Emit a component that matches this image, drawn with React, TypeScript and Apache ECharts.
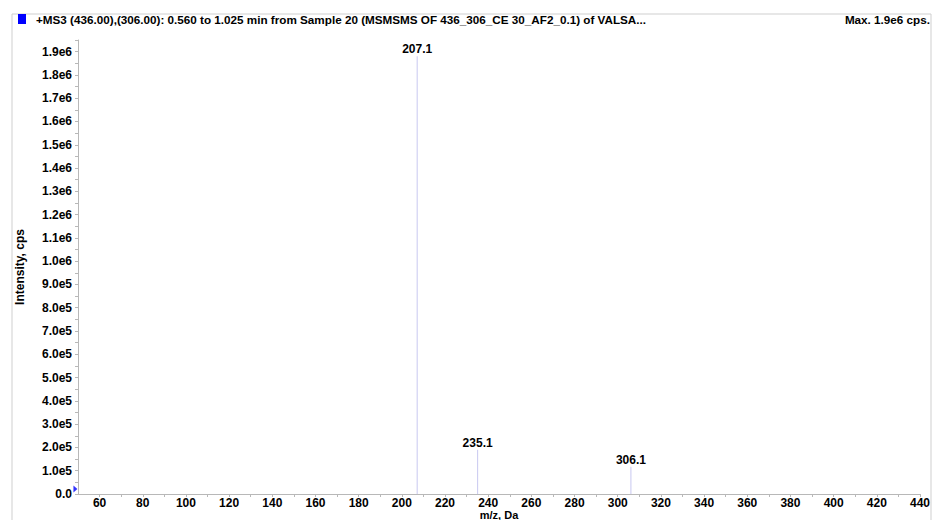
import React, { useEffect, useRef } from "react";
import * as echarts from "echarts";

const titleText =
  "+MS3 (436.00),(306.00): 0.560 to 1.025 min from Sample 20 (MSMSMS OF 436_306_CE 30_AF2_0.1) of VALSA...";
const maxText = "Max. 1.9e6 cps.";
const xAxisName = "m/z, Da";
const yAxisName = "Intensity, cps";

const peakMz = [207.1, 235.1, 306.1];
const peakIntensity = [1880000, 190000, 117000];
const peakLabels = ["207.1", "235.1", "306.1"];

const xMin = 50;
const xMax = 440;
const yMin = 0;
const yMax = 1950000;

const markerPoint = [48.8, 21000];

const FONT = "'Liberation Sans', Arial, sans-serif";

function fmtY(v: number): string {
  const k = v / 1e5;
  if (Math.abs(k - Math.round(k)) > 1e-6) return "";
  if (Math.round(k) === 0) return "0.0";
  const e = Math.floor(Math.log10(v) + 1e-9);
  const m = v / Math.pow(10, e);
  return m.toFixed(1) + "e" + e;
}

export default function App() {
  const ref = useRef<HTMLDivElement>(null);
  useEffect(() => {
    if (!ref.current) return;
    const chart = echarts.init(ref.current, undefined, { renderer: "svg" });
    const data = peakMz.map((m, i) => ({
      value: [m, peakIntensity[i]],
      label: { formatter: peakLabels[i] },
    }));
    chart.setOption({
      animation: false,
      backgroundColor: "#ffffff",
      textStyle: { fontFamily: FONT },
      grid: {
        left: 78,
        right: 13,
        top: 40,
        bottom: 26,
        containLabel: false,
        outerBoundsMode: "none",
      },
      graphic: [
        {
          type: "rect",
          shape: { x: 12, y: 14, width: 919, height: 520 },
          style: { fill: "none", stroke: "#cfcfcf", lineWidth: 1 },
          silent: true,
        },
        {
          type: "rect",
          shape: { x: 18, y: 14, width: 8, height: 10 },
          style: { fill: "#0000ff" },
          silent: true,
        },
        {
          type: "text",
          x: 36,
          y: 19,
          style: {
            text: titleText,
            font: "bold 11.7px " + FONT,
            fill: "#000",
            verticalAlign: "middle",
            align: "left",
          },
          silent: true,
        },
        {
          type: "text",
          x: 930,
          y: 19,
          style: {
            text: maxText,
            font: "bold 11.7px " + FONT,
            fill: "#000",
            verticalAlign: "middle",
            align: "right",
          },
          silent: true,
        },
      ],
      xAxis: {
        type: "value",
        min: xMin,
        max: xMax,
        interval: 10,
        name: xAxisName,
        nameLocation: "middle",
        nameGap: 16,
        nameMoveOverlap: false,
        nameTextStyle: {
          fontWeight: "bold",
          fontSize: 11,
          lineHeight: 9,
          color: "#000",
          fontFamily: FONT,
        },
        axisLine: { show: true, lineStyle: { color: "#b8b8b8", width: 1 } },
        axisTick: { show: true, length: 3, lineStyle: { color: "#b8b8b8" } },
        splitLine: { show: false },
        axisLabel: {
          margin: 3,
          fontWeight: "bold",
          fontSize: 12,
          lineHeight: 12,
          color: "#000",
          fontFamily: FONT,
          showMinLabel: false,
          formatter: (v: number) => (Math.round(v) % 20 === 0 && v > xMin ? String(Math.round(v)) : ""),
        },
      },
      yAxis: {
        type: "value",
        min: yMin,
        max: yMax,
        interval: 50000,
        name: yAxisName,
        nameLocation: "middle",
        nameGap: 52,
        nameMoveOverlap: false,
        nameTextStyle: { fontWeight: "bold", fontSize: 12, color: "#000", fontFamily: FONT },
        axisLine: { show: true, lineStyle: { color: "#b8b8b8", width: 1 } },
        axisTick: { show: true, length: 3, lineStyle: { color: "#b8b8b8" } },
        splitLine: { show: false },
        axisLabel: {
          margin: 6,
          fontWeight: "bold",
          fontSize: 12,
          color: "#000",
          fontFamily: FONT,
          formatter: fmtY,
        },
      },
      series: [
        {
          type: "bar",
          data,
          barWidth: 1,
          itemStyle: { color: "#c8c8f0" },
          label: {
            show: true,
            position: "top",
            distance: 1,
            fontWeight: "bold",
            fontSize: 12,
            color: "#000",
            fontFamily: FONT,
          },
        },
        {
          type: "scatter",
          data: [markerPoint],
          symbol: "triangle",
          symbolRotate: -90,
          symbolSize: [7, 4],
          clip: false,
          itemStyle: { color: "#0000ff" },
        },
      ],
    });
    return () => chart.dispose();
  }, []);
  return (
    <div
      ref={ref}
      style={{ position: "absolute", left: 0, top: 0, width: 933, height: 520 }}
    />
  );
}
